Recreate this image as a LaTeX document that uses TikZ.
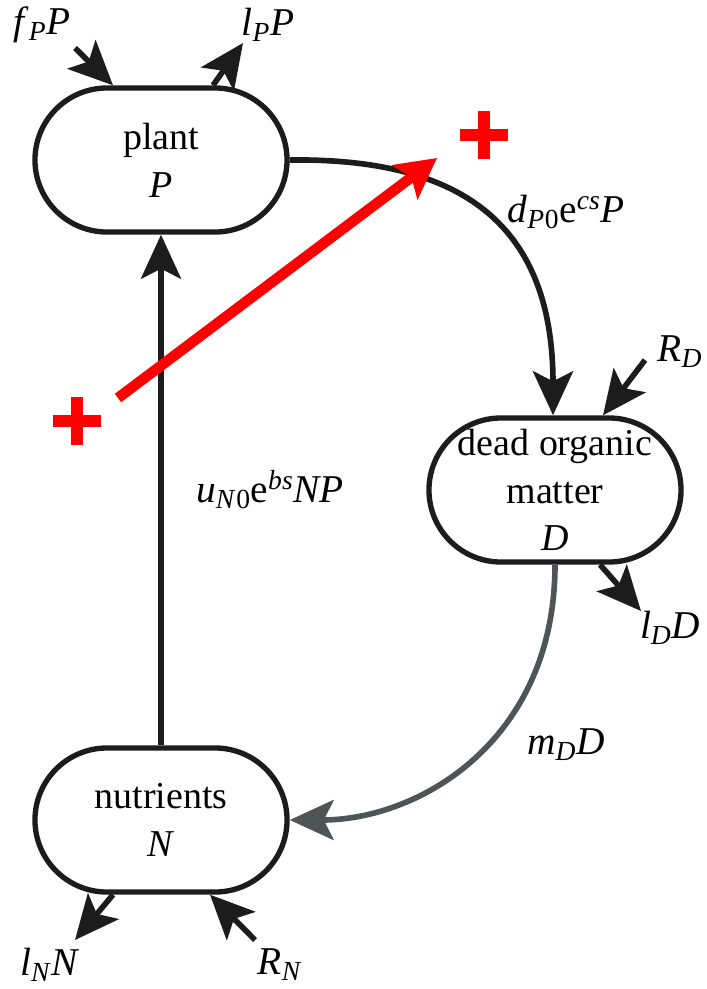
\documentclass[tikz,border=0pt]{standalone}
\usepackage{fontspec}
\setmainfont{LiberationSerif-Regular.ttf}[ItalicFont=LiberationSerif-Italic.ttf]
\usepackage{xcolor}
\usetikzlibrary{arrows.meta,positioning,calc}
\definecolor{inkdark}{HTML}{1C1C1C}
\definecolor{flowgrey}{HTML}{4F5457}
\definecolor{boostred}{HTML}{FF0000}
\newcommand{\vsb}[1]{\textsubscript{\textit{#1}}}
\newcommand{\vsp}[1]{\textsuperscript{\textit{#1}}}
\tikzset{pool/.style={draw=inkdark,line width=3.8pt,fill=white,rounded corners=1.8cm,
  minimum width=6.3cm,minimum height=3.6cm,align=center,inner sep=2pt,
  font=\fontsize{27}{34}\selectfont},
  flow/.style={-{Stealth[length=1.1cm,width=1cm,inset=0.25cm]},line width=4pt,draw=inkdark},
  boost/.style={-{Stealth[length=1cm,width=1.05cm,inset=0.2cm]},line width=7.5pt,draw=boostred},
  rate/.style={font=\fontsize{28}{30}\selectfont,inner sep=1pt},
  plus/.style={minimum size=1.2cm,inner sep=0pt,path picture={
    \fill[boostred] ($(path picture bounding box.center)+(-0.6cm,-0.15cm)$) rectangle ++(1.2cm,0.3cm);
    \fill[boostred] ($(path picture bounding box.center)+(-0.15cm,-0.6cm)$) rectangle ++(0.3cm,1.2cm);}}}
\begin{document}
\begin{tikzpicture}[x=0.025cm,y=-0.025cm]
 \useasboundingbox (0,0) rectangle (706,989);
 % pools
 \node[pool] (plant) at (161,160) {plant\\\textit{P}};
 \node[pool] (dom) at (555,490) {dead organic\\matter\\\textit{D}};
 \node[pool] (nut) at (161,820) {nutrients\\\textit{N}};
 % free ends of in- and outflows
 \coordinate (fpin) at (75,48);
 \coordinate (lpout) at (243,43);
 \coordinate (rdin) at (645,360);
 \coordinate (ldout) at (641,611);
 \coordinate (lnout) at (75,940);
 \coordinate (rnin) at (255,940);
 \coordinate (ra) at (118,398);
 \coordinate (rb) at (437,158);
 % flows
 \draw[flow] (fpin) -- ($(plant.north)+(-48,0)$);
 \draw[flow] ($(plant.north)+(52,0)$) -- (lpout);
 \draw[flow] (nut) -- (plant);
 \draw[flow] (plant.east) .. controls (450,158) and (553,215) .. ($(dom.north)+(-2,0)$);
 \draw[flow] (rdin) -- ($(dom.north)+(48,0)$);
 \draw[flow] ($(dom.south)+(45,0)$) -- (ldout);
 \draw[flow,draw=flowgrey] (dom.south) .. controls (555,740) and (420,820) .. (nut.east);
 \draw[flow] ($(nut.south)+(-48,0)$) -- (lnout);
 \draw[flow] (rnin) -- ($(nut.south)+(49,0)$);
 % temperature effect
 \draw[boost] (ra) -- (rb);
 \node[plus] (plusa) at (77,421) {};
 \node[plus] (plusb) at (484,135) {};
 % labels
 \node[rate] (fplab) at (42,25) {\textit{f}\vsb{P}\textit{P}};
 \node[rate] (lplab) at (268,25) {\textit{l}\vsb{P}\textit{P}};
 \node[rate] (dplab) at (566,212) {\textit{d}\vsb{P}\textsubscript{0}e\vsp{cs}\textit{P}};
 \node[rate] (rdlab) at (680,352) {\textit{R}\vsb{D}};
 \node[rate] (unlab) at (270,490) {\textit{u}\vsb{N}\textsubscript{0}e\vsp{bs}\textit{NP}};
 \node[rate] (ldlab) at (670,628) {\textit{l}\vsb{D}\textit{D}};
 \node[rate] (mdlab) at (566,745) {\textit{m}\vsb{D}\textit{D}};
 \node[rate] (lnlab) at (50,965) {\textit{l}\vsb{N}\textit{N}};
 \node[rate] (rnlab) at (280,965) {\textit{R}\vsb{N}};
\end{tikzpicture}
\end{document}
